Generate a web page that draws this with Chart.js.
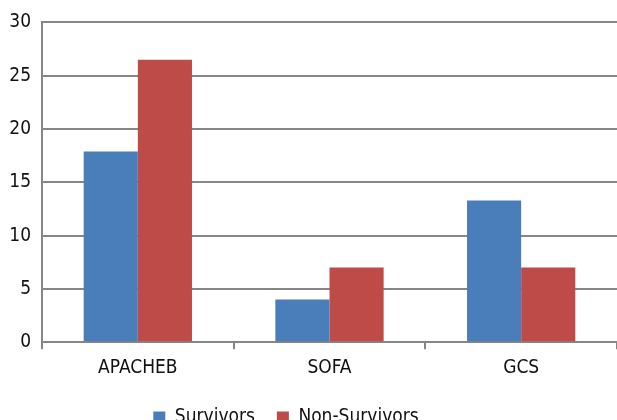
<!DOCTYPE html>
<html>
<head>
<meta charset="utf-8">
<script src="https://cdn.jsdelivr.net/npm/chart.js@4"></script>
<style>
  html, body { margin: 0; padding: 0; background: #fff; overflow: hidden; }
  #wrap { width: 617px; height: 437px; position: relative; }
</style>
</head>
<body>
<div id="wrap"><canvas id="scoreChart"></canvas></div>
<script>
// Data
var categories = ['APACHEB', 'SOFA', 'GCS'];
var survivors = [17.9, 4.0, 13.3];
var nonSurvivors = [26.5, 7.0, 7.0];
var yTicks = [0, 5, 10, 15, 20, 25, 30];

var fontFamily = '"DejaVu Sans Condensed", "Liberation Sans Narrow", "Roboto", sans-serif';
var gridColor = '#868686';

// nudge the legend left so it sits where the original one does
var legendShift = {
    id: 'legendShift',
    afterLayout: function(chart) {
        chart.legend.right -= 45;
    }
};

var ctx = document.getElementById('scoreChart').getContext('2d');
var chart = new Chart(ctx, {
    type: 'bar',
    data: {
        labels: categories,
        datasets: [{
            label: 'Survivors',
            data: survivors,
            backgroundColor: '#4A7EBB',
            categoryPercentage: 0.565,
            barPercentage: 1.0
        }, {
            label: 'Non-Survivors',
            data: nonSurvivors,
            backgroundColor: '#BE4B48',
            categoryPercentage: 0.565,
            barPercentage: 1.0
        }]
    },
    plugins: [legendShift],
    options: {
        responsive: true,
        maintainAspectRatio: false,
        animation: false,
        layout: { padding: { top: 11, left: 0, right: 0, bottom: 0 } },
        plugins: {
            legend: {
                position: 'bottom',
                labels: {
                    color: '#111',
                    boxWidth: 12,
                    boxHeight: 12,
                    padding: 22,
                    font: { family: fontFamily, size: 19 }
                }
            },
            tooltip: { enabled: false }
        },
        scales: {
            x: {
                grid: {
                    offset: true,
                    drawOnChartArea: false,
                    color: gridColor,
                    lineWidth: 2,
                    tickLength: 7
                },
                border: { color: gridColor, width: 2 },
                ticks: {
                    color: '#111',
                    padding: 7,
                    font: { family: fontFamily, size: 19 }
                }
            },
            y: {
                min: 0,
                max: 30,
                afterBuildTicks: function(axis) {
                    axis.ticks = yTicks.map(function(v) { return { value: v }; });
                },
                afterFit: function(axis) {
                    axis.width = 42;
                },
                grid: {
                    color: gridColor,
                    lineWidth: 2,
                    drawTicks: false
                },
                border: { color: gridColor, width: 2 },
                ticks: {
                    color: '#111',
                    padding: 11,
                    font: { family: fontFamily, size: 19 }
                }
            }
        }
    }
});
</script>
</body>
</html>
